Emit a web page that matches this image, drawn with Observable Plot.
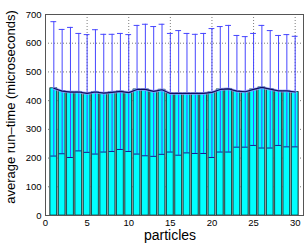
<!DOCTYPE html>
<html><head><meta charset="utf-8">
<script src="https://cdn.jsdelivr.net/npm/d3@7"></script>
<script src="https://cdn.jsdelivr.net/npm/@observablehq/plot@0.6"></script>
<style>
html,body{margin:0;padding:0;background:#fff;}
svg{font-family:"Liberation Sans",Arial,sans-serif;}
</style>
</head><body>
<div id="chart"></div>
<script>
const particles = d3.range(1, 31);
const meanTime = [443,433,430,430,425,430,426,429,432,428,439,439,432,438,425,425,425,425,425,429,439,441,433,431,439,446,440,434,434,430];
const upperTime = [675,648,655,634,630,647,631,631,634,630,662,666,658,666,634,644,634,631,634,651,658,662,627,623,634,662,644,627,630,624];
const lowerTime = [207,215,202,225,220,214,221,223,230,223,214,208,206,213,221,210,218,216,216,202,221,221,238,238,244,235,235,244,239,239];
const xTicks = [0,5,10,15,20,25,30];
const yTicks = [0,100,200,300,400,500,600,700];
const xLabel = "particles";
const yLabel = "average run\u2013time (microseconds)";

const data = particles.map((p, i) => ({p, mean: meanTime[i], hi: upperTime[i], lo: lowerTime[i]}));

const chart = Plot.plot({
  width: 304,
  height: 243,
  marginLeft: 45,
  marginRight: 1,
  marginTop: 14,
  marginBottom: 28,
  style: {fontSize: "9.5px", fontFamily: "Liberation Sans, Arial, sans-serif", background: "#fff"},
  x: {domain: [0, 31], ticks: xTicks},
  y: {domain: [0, 700], ticks: yTicks},
  marks: [
    Plot.gridX(xTicks.slice(1), {stroke: "#444", strokeOpacity: 0.7, strokeDasharray: "1,2"}),
    Plot.gridY(yTicks.slice(1), {stroke: "#444", strokeOpacity: 0.7, strokeDasharray: "1,2"}),
    Plot.rectY(data, {x1: d => d.p - 0.5, x2: d => d.p + 0.5, y: "mean", fill: "#8c8c8c"}),
    Plot.rectY(data, {x1: d => d.p - 0.4, x2: d => d.p + 0.4, y: "mean", fill: "#00ffff", stroke: "#0b3d3d", strokeWidth: 0.8}),
    Plot.ruleX(data, {x: "p", y1: "lo", y2: "hi", stroke: "#4646ff", strokeWidth: 1}),
    Plot.ruleY(data, {y: "hi", x1: d => d.p - 0.35, x2: d => d.p + 0.35, stroke: "#4646ff", strokeWidth: 1}),
    Plot.ruleY(data, {y: "lo", x1: d => d.p - 0.35, x2: d => d.p + 0.35, stroke: "#1a1a90", strokeWidth: 1}),
    Plot.line(data, {x: "p", y: "mean", stroke: "#9a9aff", strokeWidth: 3, strokeOpacity: 0.7}),
    Plot.line(data, {x: "p", y: "mean", stroke: "#101060", strokeWidth: 1.2}),
    Plot.frame({stroke: "#555", strokeWidth: 1}),
    Plot.axisX({ticks: xTicks, tickSize: 0, tickPadding: 4, label: null, fill: "#000"}),
    Plot.axisY({ticks: yTicks, tickSize: 0, tickPadding: 4, label: null, fill: "#000"})
  ]
});
const svg = d3.select(chart);
svg.append("text")
  .attr("x", 170).attr("y", 240)
  .attr("text-anchor", "middle")
  .attr("font-size", 14).attr("fill", "#000")
  .text(xLabel);
svg.append("text")
  .attr("transform", "translate(15,107) rotate(-90)")
  .attr("text-anchor", "middle")
  .attr("font-size", 13).attr("fill", "#000")
  .text(yLabel);
document.getElementById("chart").appendChild(chart);
</script>
</body></html>
